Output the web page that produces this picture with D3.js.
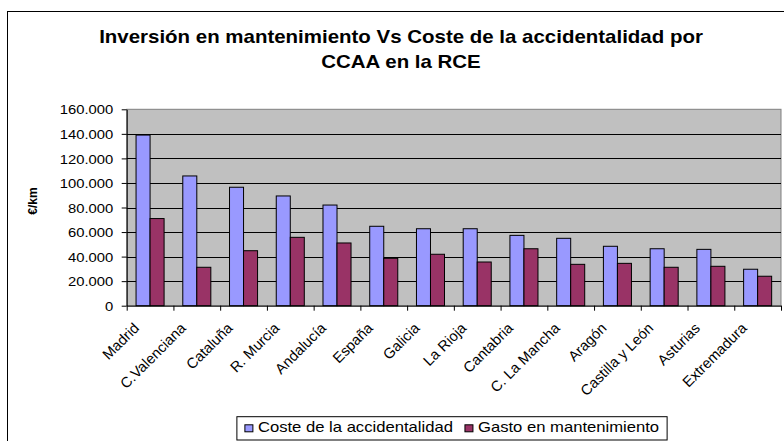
<!DOCTYPE html>
<html>
<head>
<meta charset="UTF-8">
<title>Inversión vs Coste</title>
<script src="https://cdn.jsdelivr.net/npm/d3@7"></script>
<style>
  body { margin: 0; background: #fff; }
  text { font-family: "Liberation Sans", Arial, sans-serif; fill: #000; }
</style>
</head>
<body>
<div id="chart"></div>
<script>
// data
var categories = ["Madrid", "C.Valenciana", "Cataluña", "R. Murcia", "Andalucía", "España",
                  "Galicia", "La Rioja", "Cantabria", "C. La Mancha", "Aragón",
                  "Castilla y León", "Asturias", "Extremadura"];
var coste = [139000, 105700, 96500, 89400, 82000, 64700, 62700, 62700, 57300, 54900, 48400, 46400, 45900, 29700];
var gasto = [71000, 31300, 44800, 55700, 51100, 38600, 41900, 35600, 46400, 33700, 34500, 31300, 32100, 24000];
var seriesNames = ["Coste de la accidentalidad", "Gasto en mantenimiento"];
var seriesColors = ["#9999ff", "#993366"];
var yTicks = [0, 20000, 40000, 60000, 80000, 100000, 120000, 140000, 160000];
var titleLines = ["Inversión en mantenimiento Vs Coste de la accidentalidad por", "CCAA en la RCE"];
var yTitle = "€/km";

var width = 784, height = 441;
// horizontal text in the source is a bit stretched
var SX = 1.14;
var SX_TITLE = 1.17;
var plot = {left: 126.7, right: 781, top: 109.3, bottom: 305.7};

var svg = d3.select("#chart").append("svg")
    .attr("width", width)
    .attr("height", height);

svg.append("rect").attr("width", width).attr("height", height).attr("fill", "#fff");

// chart border (runs off the picture right and bottom)
svg.append("rect")
    .attr("x", 7.5).attr("y", 11.5)
    .attr("width", 820).attr("height", 500)
    .attr("fill", "none").attr("stroke", "#000").attr("stroke-width", 1);

// title
svg.selectAll("text.title")
    .data(titleLines)
    .enter().append("text")
    .attr("class", "title")
    .attr("text-anchor", "middle")
    .attr("font-weight", "bold")
    .attr("font-size", "17.5px")
    .attr("transform", function(d, i) { return "translate(401," + (43.3 + i * 24.4) + ") scale(" + SX_TITLE + ",1)"; })
    .text(function(d) { return d; });

// scales
var x0 = d3.scaleBand().domain(categories).range([plot.left, plot.right]);
var x1 = d3.scaleBand().domain(seriesNames)
    .range([x0.bandwidth() * 0.2, x0.bandwidth() * 0.8]);
var y = d3.scaleLinear().domain([0, 160000]).range([plot.bottom, plot.top]);

// plot area
svg.append("rect")
    .attr("x", plot.left).attr("y", plot.top)
    .attr("width", plot.right - plot.left).attr("height", plot.bottom - plot.top)
    .attr("fill", "#c0c0c0").attr("stroke", "#808080");

svg.append("g").attr("class", "grid")
    .selectAll("line")
    .data(yTicks.filter(function(v) { return v > 0 && v < 160000; }))
    .enter().append("line")
    .attr("x1", plot.left).attr("x2", plot.right)
    .attr("y1", function(d) { return Math.round(y(d)) + 0.5; })
    .attr("y2", function(d) { return Math.round(y(d)) + 0.5; })
    .attr("stroke", "#000");

// bars
var rows = categories.map(function(c, i) { return {cat: c, vals: [coste[i], gasto[i]]}; });
svg.append("g").selectAll("g")
    .data(rows)
    .enter().append("g")
    .attr("transform", function(d) { return "translate(" + x0(d.cat) + ",0)"; })
    .selectAll("rect")
    .data(function(d) { return d.vals.map(function(v, j) { return {key: seriesNames[j], v: v, j: j}; }); })
    .enter().append("rect")
    .attr("x", function(d) { return x1(d.key); })
    .attr("y", function(d) { return y(d.v); })
    .attr("width", x1.bandwidth())
    .attr("height", function(d) { return y(0) - y(d.v); })
    .attr("fill", function(d) { return seriesColors[d.j]; })
    .attr("stroke", "#000").attr("stroke-width", 1);

// y axis
var loc = d3.formatLocale({decimal: ",", thousands: ".", grouping: [3], currency: ["", ""]});
var fmt = loc.format(",d");
var yAxis = svg.append("g")
    .attr("transform", "translate(" + plot.left + ",0)")
    .call(d3.axisLeft(y).tickValues(yTicks).tickSize(5).tickSizeOuter(0).tickFormat(fmt));
yAxis.select(".domain").attr("stroke", "#000");
yAxis.selectAll(".tick text")
    .attr("x", 0).attr("dy", "0.36em")
    .attr("font-size", "13px")
    .attr("font-family", "Liberation Sans, Arial, sans-serif")
    .attr("transform", "translate(-13.5,0) scale(" + SX + ",1)");

// x axis: ticks on category boundaries
var xb = d3.scaleLinear().domain([0, categories.length]).range([plot.left, plot.right]);
var xAxis = svg.append("g")
    .attr("transform", "translate(0," + plot.bottom + ")")
    .call(d3.axisBottom(xb).ticks(categories.length).tickSize(5).tickSizeOuter(0).tickFormat(""));
xAxis.select(".domain").attr("stroke", "#000");

// category labels, rotated
svg.append("g").selectAll("text")
    .data(categories)
    .enter().append("text")
    .attr("text-anchor", "end")
    .attr("font-size", "14.6px")
    .attr("transform", function(d) {
        return "translate(" + (x0(d) + x0.bandwidth() / 2 - 10) + ",329) rotate(-45)";
    })
    .text(function(d) { return d; });

// y title
svg.append("text")
    .attr("text-anchor", "middle")
    .attr("font-weight", "bold")
    .attr("font-size", "12px")
    .attr("transform", "translate(37,201) rotate(-90)")
    .text(yTitle);

// legend
var legend = svg.append("g");
var lx = 0;
var items = seriesNames.map(function(name, i) {
    var g = legend.append("g");
    g.append("rect")
        .attr("x", 0).attr("y", -7.5)
        .attr("width", 8).attr("height", 7)
        .attr("fill", seriesColors[i]).attr("stroke", "#000");
    var t = g.append("text")
        .attr("font-size", "14.6px")
        .attr("transform", "translate(13,0) scale(" + SX + ",1)")
        .text(name);
    var w = 13 + t.node().getComputedTextLength() * SX;
    g.attr("transform", "translate(" + lx + ",0)");
    lx += w + 12;
    return g;
});
var legendW = lx - 12;
var boxPad = 8;
var legendCx = 452;
legend.attr("transform", "translate(" + (legendCx - legendW / 2) + ",432.3)");
legend.insert("rect", ":first-child")
    .attr("x", -boxPad).attr("y", -15.6)
    .attr("width", legendW + boxPad * 2).attr("height", 23.3)
    .attr("fill", "#fff").attr("stroke", "#000");
</script>
</body>
</html>
